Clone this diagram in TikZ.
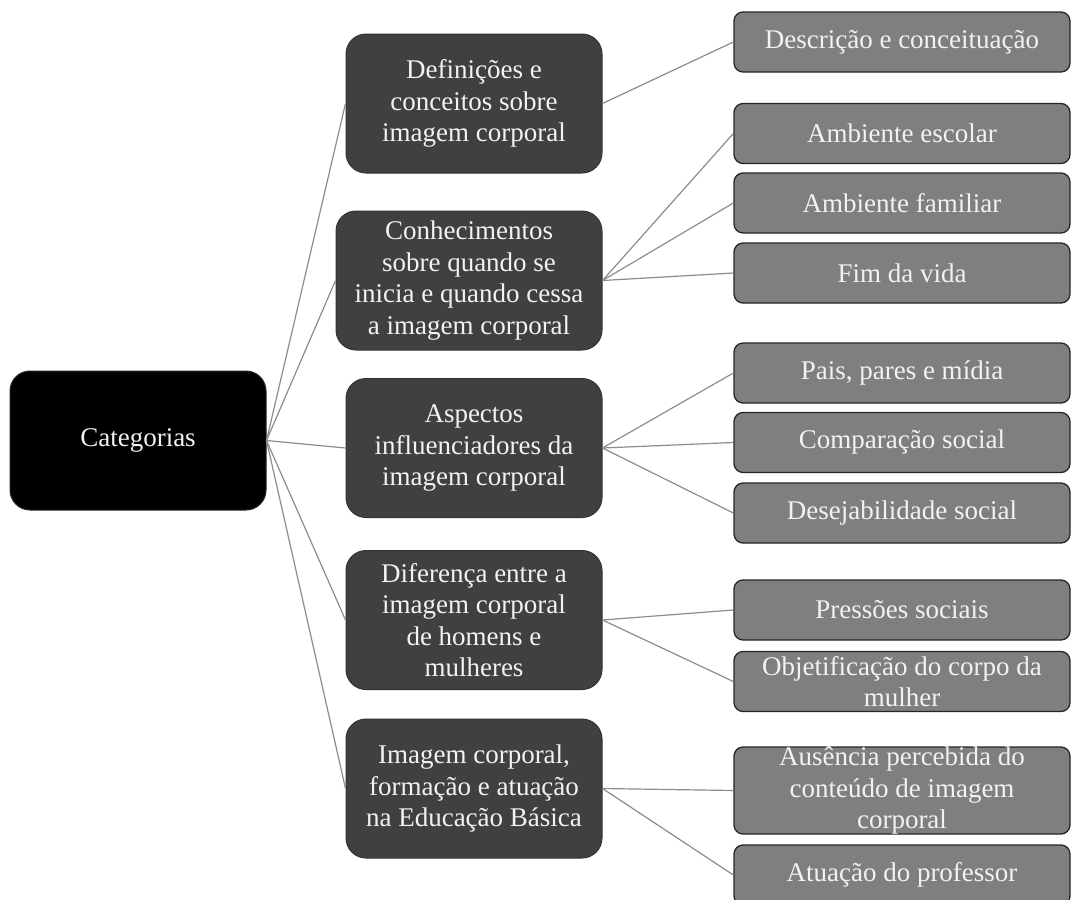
\documentclass[tikz,border=0pt]{standalone}
\usepackage{fontspec}
\setmainfont{Liberation Serif}
\usepackage{tikz}
\definecolor{catgray}{HTML}{404040}
\definecolor{leafgray}{HTML}{7F7F7F}
\definecolor{linkgray}{HTML}{8C8C8C}
\definecolor{txtwhite}{HTML}{F2F2F2}
\newcommand{\leaftxt}[1]{\parbox[c][20pt][c]{330pt}{\centering #1}}

\begin{document}
\begin{tikzpicture}[x=1pt,y=-1pt,
	every node/.style={font=\fontsize{27}{31.5}\selectfont, text=txtwhite, align=center},
	rootbox/.style={fill=black, draw=black!85, line width=1pt, rounded corners=20pt, minimum width=256pt, minimum height=139pt},
	catbox/.style={fill=catgray, draw=black!80, line width=1pt, rounded corners=20pt, minimum width=256pt, minimum height=139pt, inner sep=0pt},
	leafbox/.style={fill=leafgray, draw=black!85, line width=1.3pt, rounded corners=9pt, minimum width=336pt, minimum height=60pt, inner sep=0pt},
	link/.style={draw=linkgray, line width=1.2pt}]
\useasboundingbox (0,0) rectangle (1072,900);

%\node (root) ...
\node[rootbox] (cat) at (138,440.5) {Categorias};

\node[catbox] (def) at (474,103.5) {Definições e\\conceitos sobre\\imagem corporal};
\node[catbox, minimum width=266pt] (conh) at (469,280.5) {Conhecimentos\\sobre quando se\\inicia e quando cessa\\a imagem corporal};
\node[catbox] (asp) at (474,448) {Aspectos\\influenciadores da\\imagem corporal};
\node[catbox] (dif) at (474,620) {Diferença entre a\\imagem corporal\\de homens e\\mulheres};
\node[catbox] (edu) at (474,788.5) {Imagem corporal,\\formação e atuação\\na Educação Básica};

\node[leafbox] (desc) at (902,42) {\leaftxt{Descrição e conceituação}};
\node[leafbox] (esc) at (902,133.5) {\leaftxt{Ambiente escolar}};
\node[leafbox] (fam) at (902,203) {\leaftxt{Ambiente familiar}};
\node[leafbox] (fim) at (902,273) {\leaftxt{Fim da vida}};
\node[leafbox] (pais) at (902,373) {\leaftxt{Pais, pares e mídia}};
\node[leafbox] (comp) at (902,442.5) {\leaftxt{Comparação social}};
\node[leafbox] (desej) at (902,513) {\leaftxt{Desejabilidade social}};
\node[leafbox] (press) at (902,610) {\leaftxt{Pressões sociais}};
\node[leafbox] (obj) at (902,681.5) {\leaftxt{Objetificação do corpo da\\mulher}};
\node[leafbox, minimum height=87pt] (ause) at (902,790.5) {\leaftxt{Ausência percebida do\\conteúdo de imagem\\corporal}};
\node[leafbox] (atua) at (902,875) {\leaftxt{Atuação do professor}};

%\path[->,font=\scriptsize]
\path[link]
(cat.east) edge (def.west)
(cat.east) edge (conh.west)
(cat.east) edge (asp.west)
(cat.east) edge (dif.west)
(cat.east) edge (edu.west)
(def.east) edge (desc.west)
(conh.east) edge (esc.west)
(conh.east) edge (fam.west)
(conh.east) edge (fim.west)
(asp.east) edge (pais.west)
(asp.east) edge (comp.west)
(asp.east) edge (desej.west)
(dif.east) edge (press.west)
(dif.east) edge (obj.west)
(edu.east) edge (ause.west)
(edu.east) edge (atua.west)
;
\end{tikzpicture}
\end{document}
